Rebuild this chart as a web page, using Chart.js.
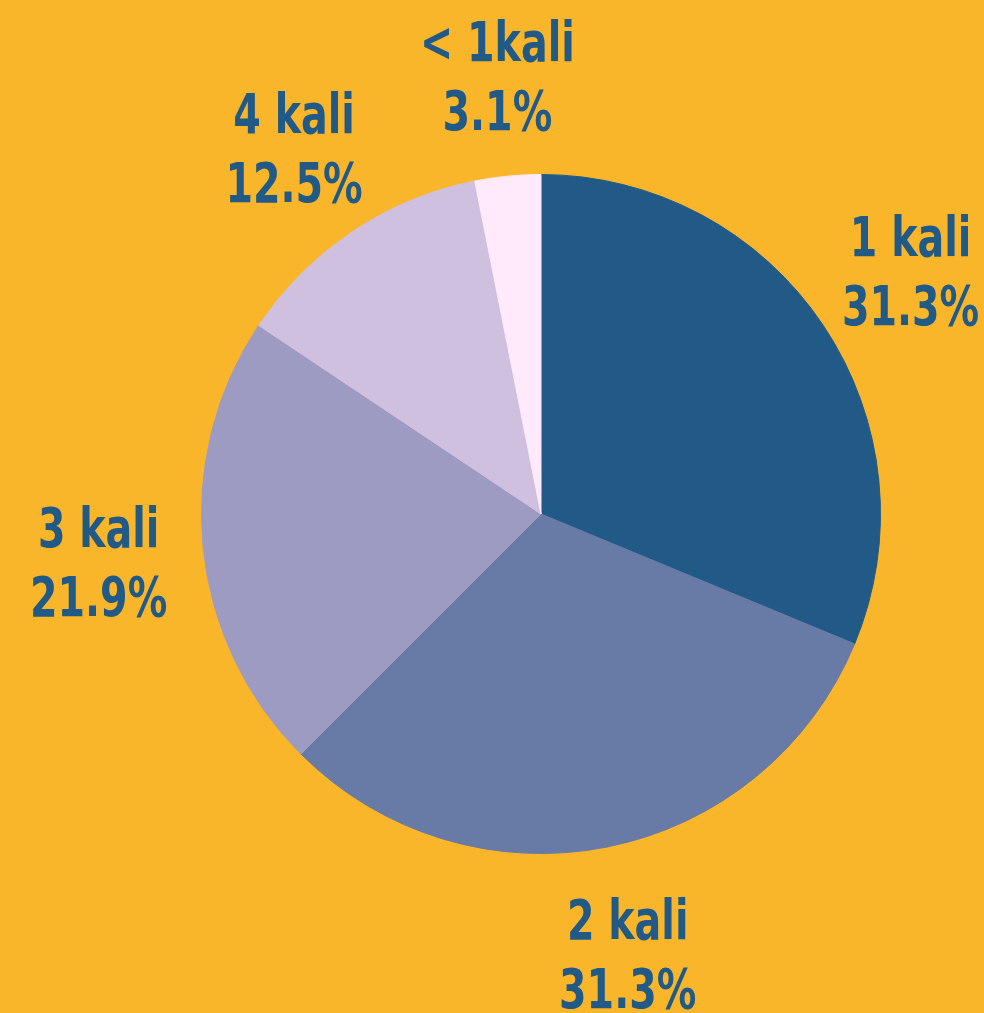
<!DOCTYPE html>
<html>
<head>
<meta charset="utf-8">
<script src="https://cdn.jsdelivr.net/npm/chart.js@4/dist/chart.umd.min.js"></script>
<style>
  html, body { margin: 0; padding: 0; background: #F9B62A; }
  #wrap { width: 984px; height: 1013px; position: relative; }
</style>
</head>
<body>
<div id="wrap"><canvas id="pieChart"></canvas></div>
<script>
const categories = ["1 kali", "2 kali", "3 kali", "4 kali", "< 1kali"];
const percentLabels = ["31.3%", "31.3%", "21.9%", "12.5%", "3.1%"];
const counts = [10, 10, 7, 4, 1];
const sliceColors = ["#215A87", "#687AA6", "#9E9BC3", "#D0C0E0", "#FEEAFB"];

// draw the two-line labels outside each slice, squeezed to look condensed
const outsideLabels = {
  id: "outsideLabels",
  afterDatasetsDraw(chart) {
    const ctx = chart.ctx;
    const arcs = chart.getDatasetMeta(0).data;
    const squeeze = 0.8;
    ctx.save();
    ctx.fillStyle = "#215A87";
    ctx.textAlign = "center";
    ctx.textBaseline = "alphabetic";
    ctx.font = "bold 55px 'DejaVu Sans Condensed', 'DejaVu Sans', sans-serif";
    arcs.forEach((arc, i) => {
      const mid = (arc.startAngle + arc.endAngle) / 2;
      const r = arc.outerRadius + 105;
      const x = arc.x + Math.cos(mid) * r;
      const y = arc.y + Math.sin(mid) * r;
      ctx.save();
      ctx.translate(x, y);
      ctx.scale(squeeze, 1);
      ctx.fillText(categories[i], 0, -11);
      ctx.fillText(percentLabels[i], 0, 58);
      ctx.restore();
    });
    ctx.restore();
  }
};

const ctx = document.getElementById("pieChart").getContext("2d");
new Chart(ctx, {
  type: "pie",
  data: {
    labels: categories,
    datasets: [{
      data: counts,
      backgroundColor: sliceColors,
      borderColor: sliceColors,
      borderWidth: 1
    }]
  },
  options: {
    responsive: true,
    maintainAspectRatio: false,
    animation: false,
    layout: { padding: { left: 201, right: 103, top: 174, bottom: 159 } },
    plugins: {
      legend: { display: false },
      tooltip: { enabled: false }
    }
  },
  plugins: [outsideLabels]
});
</script>
</body>
</html>
